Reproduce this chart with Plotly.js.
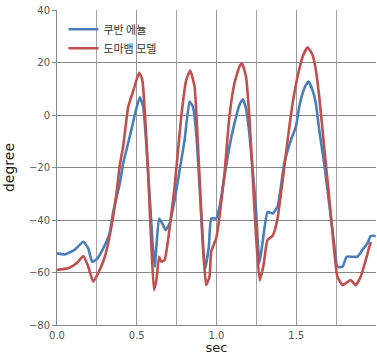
<!DOCTYPE html>
<html>
<head>
<meta charset="utf-8">
<script src="https://cdn.plot.ly/plotly-3.0.1.min.js"></script>
<style>html,body{margin:0;padding:0;background:#fff;}#chart{width:377px;height:355px;}</style>
</head>
<body>
<div id="chart"></div>
<script>
const seriesNames = ["쿠반 에뉼", "도마뱀 모델"];
const blueX = [0.0,0.05,0.11,0.165,0.196,0.22,0.248,0.29,0.33,0.352,0.394,0.415,0.456,0.4875,0.519,0.54,0.56,0.58,0.598,0.6125,0.64,0.66,0.681,0.706,0.7375,0.769,0.8,0.831,0.852,0.873,0.894,0.915,0.929,0.952,0.967,0.998,1.019,1.05,1.081,1.1125,1.144,1.165,1.185,1.206,1.227,1.248,1.269,1.29,1.32,1.352,1.383,1.425,1.467,1.498,1.519,1.54,1.56,1.577,1.602,1.623,1.644,1.675,1.706,1.7375,1.758,1.79,1.816,1.852,1.883,1.915,1.946,1.967,1.998];
const blueY = [-52.7,-53.1,-51.4,-48.3,-50.8,-55.9,-55,-50.8,-45,-37,-26,-18.4,-8.3,0,6.7,3.2,-10.8,-29.8,-47.6,-57.8,-39.4,-41.3,-43.8,-41.3,-32.4,-21,-9.5,5.1,3.2,-7,-27.3,-50.2,-58.5,-50.2,-39.4,-39.4,-34.9,-23.5,-12.1,-3.2,3.8,6,2.5,-7,-21,-36.2,-56.5,-48,-37,-37.5,-34.9,-18.4,-9.5,-4.4,3.2,8.3,11.4,12.7,9.5,4.4,-5.7,-18.4,-33.6,-48.9,-57.8,-57.8,-54,-54,-54,-51.4,-48.9,-46.1,-46.1];
const redX = [0.0,0.07,0.123,0.165,0.196,0.227,0.258,0.3,0.34,0.373,0.394,0.415,0.446,0.477,0.515,0.535,0.556,0.577,0.592,0.608,0.623,0.64,0.654,0.675,0.702,0.7375,0.779,0.81,0.835,0.8625,0.883,0.904,0.921,0.935,0.956,0.967,0.998,1.019,1.05,1.081,1.1125,1.144,1.16,1.185,1.206,1.227,1.248,1.271,1.294,1.32,1.352,1.381,1.415,1.446,1.477,1.508,1.54,1.571,1.602,1.623,1.644,1.675,1.706,1.7375,1.758,1.79,1.81,1.842,1.873,1.904,1.936,1.967];
const redY = [-59,-58.4,-56.5,-53.7,-57.8,-63.5,-60.3,-54,-43,-29.8,-19,-12,3,9,16.1,13.3,-4.4,-29.8,-50.2,-66.7,-62.9,-54,-55.9,-55.2,-45,-27.3,-0.6,13.3,16.9,10.8,-10.8,-36.2,-55.2,-64.8,-61.6,-52,-47,-38.7,-22.2,-0.6,12.1,18.4,19.7,14.6,-0.6,-23.5,-46.3,-63,-57.5,-47.6,-46,-40,-24.8,-9.5,4.4,14.6,22.2,25.8,22.9,17.1,7,-12.1,-31.1,-51.4,-61.6,-64.8,-64.1,-62.9,-64.8,-61.6,-55.2,-48.3];
const xTickVals = [0, 0.5, 1, 1.5];
const xTickText = ["0.0", "0.5", "1.0", "1.5"];
const yTickVals = [-80, -60, -40, -20, 0, 20, 40];

const traces = [
  {x: blueX, y: blueY, name: seriesNames[0], mode: "lines", line: {color: "#4a7ebb", width: 2.6, shape: "spline", smoothing: 0.45}},
  {x: redX, y: redY, name: seriesNames[1], mode: "lines", line: {color: "#c0504d", width: 2.6, shape: "spline", smoothing: 0.45}}
];

const layout = {
  width: 377, height: 355,
  margin: {l: 57, r: 1, t: 10, b: 30},
  paper_bgcolor: "#fff", plot_bgcolor: "#fff",
  font: {family: "'Noto Sans CJK KR', 'DejaVu Sans', sans-serif", color: "#555"},
  showlegend: true,
  legend: {x: 0.02, y: 0.985, xanchor: "left", yanchor: "top", bgcolor: "rgba(0,0,0,0)",
           font: {size: 11, color: "#333", family: "'Noto Sans CJK KR', sans-serif"}, tracegroupgap: 4, traceorder: "normal"},
  xaxis: {
    range: [0, 2], tickmode: "array", tickvals: xTickVals, ticktext: xTickText,
    showgrid: true, gridcolor: "#999", gridwidth: 1,
    minor: {dtick: 0.25, tick0: 0, showgrid: true, gridcolor: "#a5a5a5", gridwidth: 1},
    showline: true, linecolor: "#888", linewidth: 1, zeroline: false,
    ticks: "", ticklabelstandoff: 1,
    tickfont: {size: 10, color: "#555", family: "'DejaVu Sans', sans-serif"},
    title: {text: "sec", standoff: 2, font: {size: 13, color: "#222", family: "'DejaVu Sans', sans-serif"}}
  },
  yaxis: {
    range: [-80, 40], tickmode: "array", tickvals: yTickVals,
    showgrid: true, gridcolor: "#888", gridwidth: 1,
    showline: true, linecolor: "#888", linewidth: 1, zeroline: false,
    ticks: "outside", ticklen: 4, tickcolor: "#888",
    tickfont: {size: 10, color: "#555", family: "'DejaVu Sans', sans-serif"},
    title: {text: "degree", standoff: 10, font: {size: 14, color: "#222", family: "'DejaVu Sans', sans-serif"}}
  }
};

Plotly.newPlot("chart", traces, layout, {displayModeBar: false, staticPlot: true});
</script>
</body>
</html>
